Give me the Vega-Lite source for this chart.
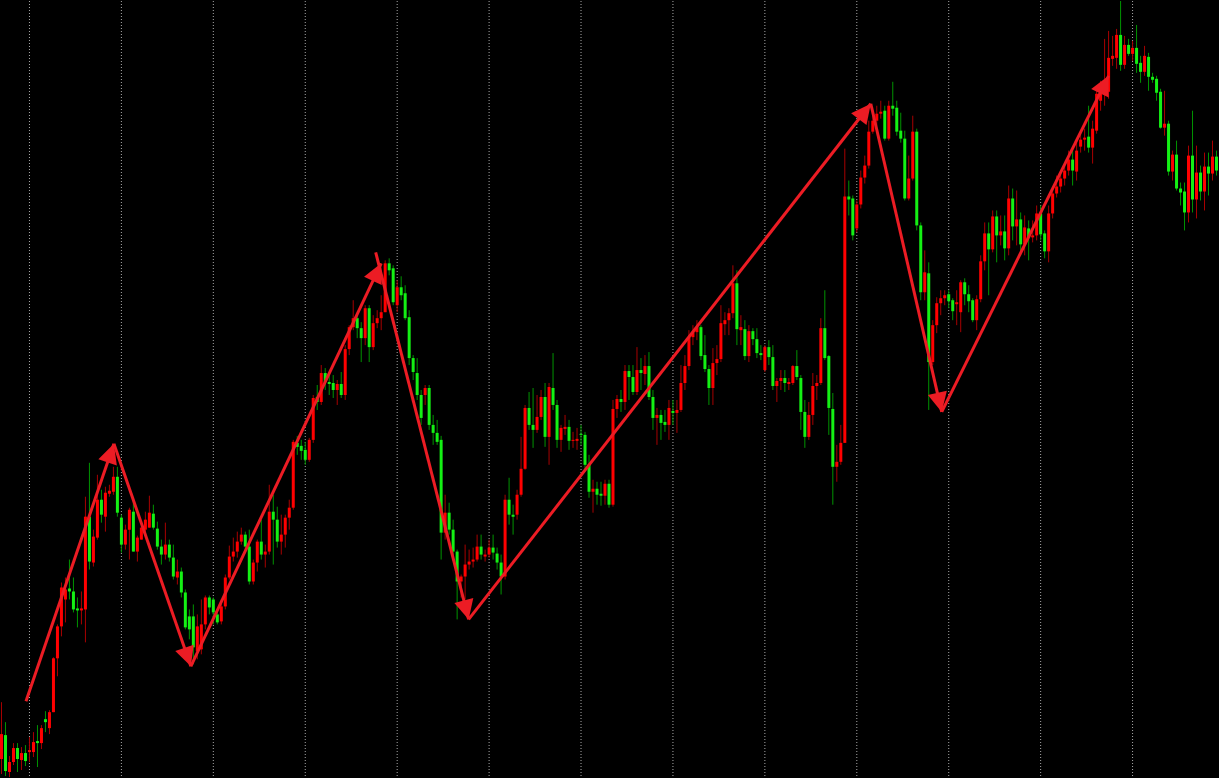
{
"$schema": "https://vega.github.io/schema/vega-lite/v6.json",
"width": 1219, "height": 778, "padding": 0,
"autosize": {"type": "fit", "contains": "padding"},
"background": "#000000",
"config": {"view": {"stroke": null}, "scale": {"continuousPadding": 0}},
"datasets": {
"candles": [
{"t":0,"o":18,"h":75,"l":3,"c":43},{"t":1,"o":42,"h":55,"l":1,"c":6},{"t":2,"o":5,"h":21,"l":0,"c":15},{"t":3,"o":15,"h":34,"l":12,"c":29},{"t":4,"o":29,"h":34,"l":5,"c":18},
{"t":5,"o":17,"h":30,"l":7,"c":24},{"t":6,"o":24,"h":32,"l":11,"c":16},{"t":7,"o":25,"h":40,"l":15,"c":27},{"t":8,"o":25,"h":45,"l":20,"c":35},{"t":9,"o":36,"h":52,"l":10,"c":34},
{"t":10,"o":34,"h":52,"l":28,"c":49},{"t":11,"o":58,"h":66,"l":45,"c":55},{"t":12,"o":49,"h":67,"l":43,"c":65},{"t":13,"o":65,"h":120,"l":65,"c":119},{"t":14,"o":119,"h":153,"l":101,"c":151},
{"t":15,"o":151,"h":195,"l":141,"c":190},{"t":16,"o":178,"h":200,"l":155,"c":188},{"t":17,"o":189,"h":218,"l":178,"c":186},{"t":18,"o":186,"h":200,"l":165,"c":168},{"t":19,"o":169,"h":180,"l":150,"c":167},
{"t":20,"o":167,"h":186,"l":153,"c":169},{"t":21,"o":168,"h":281,"l":135,"c":261},{"t":22,"o":261,"h":315,"l":208,"c":216},{"t":23,"o":215,"h":248,"l":211,"c":241},{"t":24,"o":240,"h":303,"l":238,"c":278},
{"t":25,"o":278,"h":288,"l":255,"c":263},{"t":26,"o":261,"h":291,"l":246,"c":285},{"t":27,"o":284,"h":293,"l":281,"c":287},{"t":28,"o":286,"h":311,"l":283,"c":301},{"t":29,"o":301,"h":311,"l":261,"c":265},
{"t":30,"o":260,"h":263,"l":225,"c":233},{"t":31,"o":233,"h":253,"l":228,"c":248},{"t":32,"o":248,"h":270,"l":218,"c":268},{"t":33,"o":266,"h":278,"l":226,"c":226},{"t":34,"o":226,"h":242,"l":216,"c":240},
{"t":35,"o":238,"h":252,"l":238,"c":250},{"t":36,"o":248,"h":266,"l":243,"c":258},{"t":37,"o":250,"h":282,"l":250,"c":265},{"t":38,"o":264,"h":273,"l":248,"c":250},{"t":39,"o":249,"h":256,"l":228,"c":231},
{"t":40,"o":231,"h":238,"l":213,"c":223},{"t":41,"o":223,"h":255,"l":218,"c":233},{"t":42,"o":233,"h":238,"l":216,"c":220},{"t":43,"o":220,"h":233,"l":198,"c":201},{"t":44,"o":200,"h":218,"l":193,"c":206},
{"t":45,"o":206,"h":210,"l":180,"c":185},{"t":46,"o":185,"h":188,"l":148,"c":150},{"t":47,"o":161,"h":168,"l":138,"c":148},{"t":48,"o":161,"h":173,"l":113,"c":130},{"t":49,"o":126,"h":163,"l":118,"c":151},
{"t":50,"o":128,"h":178,"l":123,"c":153},{"t":51,"o":153,"h":182,"l":148,"c":180},{"t":52,"o":180,"h":182,"l":163,"c":170},{"t":53,"o":178,"h":180,"l":153,"c":165},{"t":54,"o":163,"h":168,"l":153,"c":155},
{"t":55,"o":156,"h":178,"l":153,"c":171},{"t":56,"o":171,"h":203,"l":168,"c":200},{"t":57,"o":200,"h":232,"l":198,"c":221},{"t":58,"o":221,"h":240,"l":216,"c":226},{"t":59,"o":226,"h":246,"l":220,"c":236},
{"t":60,"o":236,"h":250,"l":233,"c":243},{"t":61,"o":243,"h":246,"l":228,"c":231},{"t":62,"o":231,"h":248,"l":193,"c":196},{"t":63,"o":196,"h":218,"l":193,"c":215},{"t":64,"o":215,"h":238,"l":206,"c":236},
{"t":65,"o":236,"h":258,"l":218,"c":223},{"t":66,"o":223,"h":233,"l":210,"c":226},{"t":67,"o":226,"h":293,"l":223,"c":266},{"t":68,"o":266,"h":283,"l":213,"c":258},{"t":69,"o":258,"h":271,"l":230,"c":236},
{"t":70,"o":236,"h":263,"l":223,"c":243},{"t":71,"o":243,"h":263,"l":230,"c":260},{"t":72,"o":260,"h":278,"l":248,"c":270},{"t":73,"o":270,"h":338,"l":268,"c":336},{"t":74,"o":335,"h":342,"l":323,"c":331},
{"t":75,"o":332,"h":338,"l":318,"c":327},{"t":76,"o":328,"h":336,"l":313,"c":318},{"t":77,"o":318,"h":340,"l":316,"c":338},{"t":78,"o":338,"h":383,"l":335,"c":380},{"t":79,"o":381,"h":393,"l":368,"c":376},
{"t":80,"o":376,"h":413,"l":373,"c":405},{"t":81,"o":405,"h":410,"l":388,"c":396},{"t":82,"o":396,"h":403,"l":383,"c":394},{"t":83,"o":395,"h":403,"l":380,"c":388},{"t":84,"o":388,"h":398,"l":373,"c":394},
{"t":85,"o":394,"h":406,"l":380,"c":383},{"t":86,"o":383,"h":433,"l":378,"c":429},{"t":87,"o":429,"h":453,"l":423,"c":451},{"t":88,"o":451,"h":478,"l":448,"c":460},{"t":89,"o":460,"h":463,"l":440,"c":450},
{"t":90,"o":450,"h":456,"l":416,"c":440},{"t":91,"o":440,"h":473,"l":433,"c":470},{"t":92,"o":470,"h":473,"l":416,"c":431},{"t":93,"o":431,"h":463,"l":428,"c":455},{"t":94,"o":455,"h":468,"l":450,"c":460},
{"t":95,"o":460,"h":483,"l":448,"c":466},{"t":96,"o":466,"h":518,"l":466,"c":515},{"t":97,"o":515,"h":520,"l":503,"c":508},{"t":98,"o":510,"h":513,"l":473,"c":476},{"t":99,"o":473,"h":498,"l":466,"c":491},
{"t":100,"o":491,"h":502,"l":478,"c":483},{"t":101,"o":485,"h":493,"l":458,"c":460},{"t":102,"o":461,"h":468,"l":413,"c":420},{"t":103,"o":420,"h":423,"l":398,"c":406},{"t":104,"o":405,"h":420,"l":378,"c":383},
{"t":105,"o":383,"h":388,"l":353,"c":360},{"t":106,"o":383,"h":393,"l":373,"c":390},{"t":107,"o":390,"h":393,"l":348,"c":353},{"t":108,"o":353,"h":363,"l":333,"c":345},{"t":109,"o":345,"h":358,"l":333,"c":336},
{"t":110,"o":338,"h":342,"l":218,"c":245},{"t":111,"o":245,"h":283,"l":238,"c":265},{"t":112,"o":265,"h":275,"l":243,"c":248},{"t":113,"o":248,"h":258,"l":220,"c":226},{"t":114,"o":226,"h":228,"l":158,"c":196},
{"t":115,"o":196,"h":203,"l":180,"c":201},{"t":116,"o":201,"h":233,"l":178,"c":213},{"t":117,"o":213,"h":228,"l":208,"c":216},{"t":118,"o":216,"h":230,"l":210,"c":218},{"t":119,"o":218,"h":243,"l":216,"c":231},
{"t":120,"o":231,"h":243,"l":218,"c":223},{"t":121,"o":221,"h":228,"l":216,"c":223},{"t":122,"o":223,"h":238,"l":220,"c":230},{"t":123,"o":230,"h":243,"l":218,"c":225},{"t":124,"o":224,"h":230,"l":208,"c":215},
{"t":125,"o":215,"h":223,"l":183,"c":201},{"t":126,"o":201,"h":283,"l":198,"c":278},{"t":127,"o":278,"h":300,"l":253,"c":263},{"t":128,"o":263,"h":273,"l":243,"c":261},{"t":129,"o":263,"h":288,"l":258,"c":283},
{"t":130,"o":283,"h":341,"l":281,"c":309},{"t":131,"o":309,"h":373,"l":308,"c":370},{"t":132,"o":370,"h":386,"l":348,"c":353},{"t":133,"o":353,"h":390,"l":330,"c":348},{"t":134,"o":348,"h":383,"l":345,"c":361},
{"t":135,"o":361,"h":388,"l":358,"c":381},{"t":136,"o":381,"h":395,"l":331,"c":341},{"t":137,"o":341,"h":395,"l":313,"c":391},{"t":138,"o":390,"h":425,"l":368,"c":373},{"t":139,"o":373,"h":378,"l":330,"c":338},
{"t":140,"o":338,"h":353,"l":326,"c":350},{"t":141,"o":349,"h":363,"l":343,"c":351},{"t":142,"o":351,"h":358,"l":328,"c":337},{"t":143,"o":337,"h":346,"l":330,"c":338},{"t":144,"o":337,"h":350,"l":328,"c":339},
{"t":145,"o":344,"h":353,"l":333,"c":343},{"t":146,"o":343,"h":346,"l":308,"c":313},{"t":147,"o":313,"h":323,"l":280,"c":286},{"t":148,"o":286,"h":298,"l":265,"c":289},{"t":149,"o":289,"h":296,"l":273,"c":283},
{"t":150,"o":284,"h":296,"l":272,"c":282},{"t":151,"o":282,"h":298,"l":273,"c":294},{"t":152,"o":294,"h":298,"l":270,"c":273},{"t":153,"o":273,"h":378,"l":271,"c":369},{"t":154,"o":369,"h":383,"l":360,"c":379},
{"t":155,"o":379,"h":388,"l":366,"c":376},{"t":156,"o":376,"h":413,"l":368,"c":407},{"t":157,"o":407,"h":413,"l":378,"c":401},{"t":158,"o":401,"h":413,"l":383,"c":386},{"t":159,"o":386,"h":431,"l":383,"c":408},
{"t":160,"o":408,"h":420,"l":388,"c":405},{"t":161,"o":404,"h":423,"l":393,"c":412},{"t":162,"o":412,"h":426,"l":378,"c":381},{"t":163,"o":381,"h":388,"l":348,"c":360},{"t":164,"o":360,"h":370,"l":333,"c":363},
{"t":165,"o":363,"h":368,"l":338,"c":355},{"t":166,"o":356,"h":368,"l":346,"c":353},{"t":167,"o":353,"h":378,"l":338,"c":370},{"t":168,"o":367,"h":378,"l":353,"c":365},{"t":169,"o":365,"h":378,"l":345,"c":368},
{"t":170,"o":368,"h":413,"l":366,"c":395},{"t":171,"o":395,"h":423,"l":388,"c":412},{"t":172,"o":412,"h":448,"l":408,"c":441},{"t":173,"o":441,"h":453,"l":433,"c":446},{"t":174,"o":446,"h":458,"l":438,"c":451},
{"t":175,"o":451,"h":453,"l":418,"c":422},{"t":176,"o":423,"h":443,"l":406,"c":409},{"t":177,"o":409,"h":413,"l":373,"c":390},{"t":178,"o":390,"h":430,"l":373,"c":415},{"t":179,"o":415,"h":433,"l":403,"c":419},
{"t":180,"o":419,"h":473,"l":416,"c":455},{"t":181,"o":454,"h":466,"l":443,"c":458},{"t":182,"o":458,"h":470,"l":443,"c":465},{"t":183,"o":465,"h":513,"l":460,"c":495},{"t":184,"o":495,"h":508,"l":433,"c":449},
{"t":185,"o":448,"h":463,"l":433,"c":451},{"t":186,"o":449,"h":458,"l":418,"c":422},{"t":187,"o":422,"h":453,"l":416,"c":447},{"t":188,"o":447,"h":450,"l":433,"c":439},{"t":189,"o":439,"h":450,"l":420,"c":425},
{"t":190,"o":425,"h":433,"l":418,"c":423},{"t":191,"o":408,"h":433,"l":406,"c":431},{"t":192,"o":431,"h":438,"l":413,"c":421},{"t":193,"o":421,"h":433,"l":388,"c":392},{"t":194,"o":392,"h":400,"l":376,"c":397},
{"t":195,"o":397,"h":408,"l":388,"c":400},{"t":196,"o":400,"h":408,"l":386,"c":395},{"t":197,"o":394,"h":400,"l":388,"c":396},{"t":198,"o":395,"h":413,"l":393,"c":412},{"t":199,"o":412,"h":428,"l":398,"c":401},
{"t":200,"o":400,"h":403,"l":348,"c":366},{"t":201,"o":366,"h":378,"l":330,"c":341},{"t":202,"o":341,"h":376,"l":338,"c":363},{"t":203,"o":363,"h":405,"l":353,"c":392},{"t":204,"o":392,"h":403,"l":378,"c":395},
{"t":205,"o":395,"h":460,"l":393,"c":450},{"t":206,"o":450,"h":488,"l":418,"c":420},{"t":207,"o":422,"h":423,"l":343,"c":370},{"t":208,"o":369,"h":385,"l":273,"c":311},{"t":209,"o":311,"h":333,"l":296,"c":316},
{"t":210,"o":316,"h":353,"l":313,"c":335},{"t":211,"o":335,"h":630,"l":335,"c":582},{"t":212,"o":582,"h":598,"l":563,"c":579},{"t":213,"o":580,"h":583,"l":538,"c":543},{"t":214,"o":550,"h":578,"l":546,"c":574},
{"t":215,"o":574,"h":608,"l":570,"c":601},{"t":216,"o":601,"h":623,"l":595,"c":613},{"t":217,"o":613,"h":658,"l":610,"c":647},{"t":218,"o":647,"h":666,"l":645,"c":658},{"t":219,"o":658,"h":673,"l":653,"c":665},
{"t":220,"o":665,"h":678,"l":660,"c":667},{"t":221,"o":668,"h":673,"l":638,"c":640},{"t":222,"o":640,"h":678,"l":638,"c":673},{"t":223,"o":673,"h":697,"l":663,"c":670},{"t":224,"o":671,"h":678,"l":643,"c":647},
{"t":225,"o":648,"h":666,"l":636,"c":640},{"t":226,"o":640,"h":648,"l":578,"c":580},{"t":227,"o":580,"h":623,"l":578,"c":600},{"t":228,"o":600,"h":663,"l":598,"c":647},{"t":229,"o":647,"h":650,"l":548,"c":553},
{"t":230,"o":553,"h":556,"l":478,"c":486},{"t":231,"o":486,"h":528,"l":478,"c":506},{"t":232,"o":505,"h":516,"l":368,"c":416},{"t":233,"o":416,"h":458,"l":413,"c":453},{"t":234,"o":453,"h":481,"l":445,"c":475},
{"t":235,"o":475,"h":488,"l":463,"c":480},{"t":236,"o":480,"h":488,"l":473,"c":483},{"t":237,"o":484,"h":488,"l":470,"c":477},{"t":238,"o":478,"h":480,"l":458,"c":467},{"t":239,"o":474,"h":488,"l":453,"c":476},
{"t":240,"o":466,"h":498,"l":446,"c":496},{"t":241,"o":496,"h":500,"l":473,"c":484},{"t":242,"o":484,"h":493,"l":466,"c":477},{"t":243,"o":478,"h":480,"l":456,"c":458},{"t":244,"o":458,"h":483,"l":448,"c":479},
{"t":245,"o":479,"h":523,"l":476,"c":517},{"t":246,"o":517,"h":556,"l":508,"c":545},{"t":247,"o":545,"h":556,"l":483,"c":529},{"t":248,"o":529,"h":568,"l":526,"c":562},{"t":249,"o":562,"h":568,"l":516,"c":543},
{"t":250,"o":543,"h":563,"l":533,"c":547},{"t":251,"o":547,"h":563,"l":518,"c":530},{"t":252,"o":530,"h":593,"l":523,"c":580},{"t":253,"o":580,"h":590,"l":538,"c":552},{"t":254,"o":552,"h":588,"l":533,"c":559},
{"t":255,"o":559,"h":566,"l":523,"c":534},{"t":256,"o":534,"h":563,"l":523,"c":551},{"t":257,"o":550,"h":558,"l":518,"c":541},{"t":258,"o":541,"h":558,"l":536,"c":543},{"t":259,"o":543,"h":573,"l":538,"c":565},
{"t":260,"o":565,"h":573,"l":538,"c":544},{"t":261,"o":545,"h":548,"l":520,"c":527},{"t":262,"o":527,"h":573,"l":516,"c":565},{"t":263,"o":565,"h":590,"l":560,"c":585},{"t":264,"o":585,"h":603,"l":581,"c":592},
{"t":265,"o":592,"h":606,"l":586,"c":600},{"t":266,"o":600,"h":613,"l":593,"c":608},{"t":267,"o":608,"h":628,"l":603,"c":619},{"t":268,"o":619,"h":628,"l":593,"c":608},{"t":269,"o":607,"h":638,"l":598,"c":628},
{"t":270,"o":632,"h":646,"l":626,"c":639},{"t":271,"o":639,"h":650,"l":628,"c":641},{"t":272,"o":642,"h":673,"l":626,"c":631},{"t":273,"o":631,"h":658,"l":615,"c":650},{"t":274,"o":648,"h":688,"l":645,"c":685},
{"t":275,"o":678,"h":698,"l":668,"c":695},{"t":276,"o":691,"h":740,"l":673,"c":695},{"t":277,"o":687,"h":748,"l":680,"c":721},{"t":278,"o":720,"h":743,"l":713,"c":723},{"t":279,"o":721,"h":750,"l":710,"c":744},
{"t":280,"o":744,"h":778,"l":708,"c":714},{"t":281,"o":714,"h":743,"l":710,"c":734},{"t":282,"o":734,"h":740,"l":723,"c":725},{"t":283,"o":725,"h":738,"l":718,"c":731},{"t":284,"o":731,"h":754,"l":706,"c":715},
{"t":285,"o":716,"h":723,"l":696,"c":707},{"t":286,"o":707,"h":733,"l":703,"c":723},{"t":287,"o":722,"h":726,"l":688,"c":702},{"t":288,"o":702,"h":706,"l":696,"c":699},{"t":289,"o":700,"h":703,"l":678,"c":686},
{"t":290,"o":687,"h":690,"l":650,"c":651},{"t":291,"o":651,"h":688,"l":643,"c":655},{"t":292,"o":655,"h":658,"l":603,"c":607},{"t":293,"o":607,"h":628,"l":598,"c":624},{"t":294,"o":624,"h":638,"l":588,"c":590},
{"t":295,"o":590,"h":596,"l":573,"c":586},{"t":296,"o":587,"h":596,"l":548,"c":566},{"t":297,"o":566,"h":633,"l":556,"c":623},{"t":298,"o":623,"h":668,"l":566,"c":579},{"t":299,"o":579,"h":633,"l":560,"c":606},
{"t":300,"o":606,"h":613,"l":578,"c":587},{"t":301,"o":587,"h":626,"l":568,"c":612},{"t":302,"o":612,"h":626,"l":583,"c":605},{"t":303,"o":605,"h":638,"l":598,"c":622},{"t":304,"o":622,"h":628,"l":603,"c":608}
],
"grid": [{"g":7},{"g":30},{"g":53},{"g":76},{"g":99},{"g":122},{"g":145},{"g":168},{"g":191},{"g":214},{"g":237},{"g":260},{"g":283}],
"arrows": [
{"x1":6.125,"p1":76,"x2":28.125,"p2":334},
{"x1":28.125,"p1":334,"x2":47.375,"p2":111},
{"x1":47.375,"p1":111,"x2":95.0,"p2":515},
{"x1":93.625,"p1":526,"x2":116.875,"p2":158},
{"x1":116.875,"p1":158,"x2":217.5,"p2":675},
{"x1":217.5,"p1":675,"x2":235.25,"p2":366},
{"x1":235.25,"p1":366,"x2":277.0,"p2":703}
]
},
"layer": [
{
"data": {"name": "grid"},
"mark": {"type": "rule", "color": "#a8a8a8", "strokeWidth": 1, "strokeDash": [1, 2]},
"encoding": {
"x": {"field": "g", "type": "quantitative", "scale": {"domain": [-0.125, 304.625], "nice": false, "zero": false, "padding": 0}, "axis": null}
}
},
{
"data": {"name": "candles"},
"mark": {"type": "rule", "strokeWidth": 1},
"encoding": {
"x": {"field": "t", "type": "quantitative", "scale": {"domain": [-0.125, 304.625], "nice": false, "zero": false, "padding": 0}, "axis": null},
"y": {"field": "l", "type": "quantitative", "scale": {"domain": [0, 778], "nice": false, "zero": false, "padding": 0}, "axis": null},
"y2": {"field": "h"},
"color": {"condition": {"test": "datum.c >= datum.o", "value": "#a80000"}, "value": "#009400"}
}
},
{
"data": {"name": "candles"},
"mark": {"type": "bar", "width": 3},
"encoding": {
"x": {"field": "t", "type": "quantitative", "axis": null},
"y": {"field": "o", "type": "quantitative", "axis": null},
"y2": {"field": "c"},
"color": {"condition": {"test": "datum.c >= datum.o", "value": "#ff0000"}, "value": "#14f014"}
}
},
{
"data": {"name": "arrows"},
"mark": {"type": "rule", "color": "#ec1c24", "strokeWidth": 3, "strokeCap": "butt"},
"encoding": {
"x": {"field": "x1", "type": "quantitative", "axis": null},
"y": {"field": "p1", "type": "quantitative", "axis": null},
"x2": {"field": "x2"},
"y2": {"field": "p2"}
}
},
{
"data": {"name": "arrows"},
"transform": [{"calculate": "atan2(4 * (datum.x2 - datum.x1), datum.p2 - datum.p1) * 180 / PI", "as": "ang"}],
"mark": {"type": "point", "shape": "M0,0L-0.5,1L0.5,1Z", "filled": true, "color": "#ec1c24", "opacity": 1, "size": 1521},
"encoding": {
"x": {"field": "x2", "type": "quantitative", "axis": null},
"y": {"field": "p2", "type": "quantitative", "axis": null},
"angle": {"field": "ang", "type": "quantitative", "scale": null}
}
}
]
}
